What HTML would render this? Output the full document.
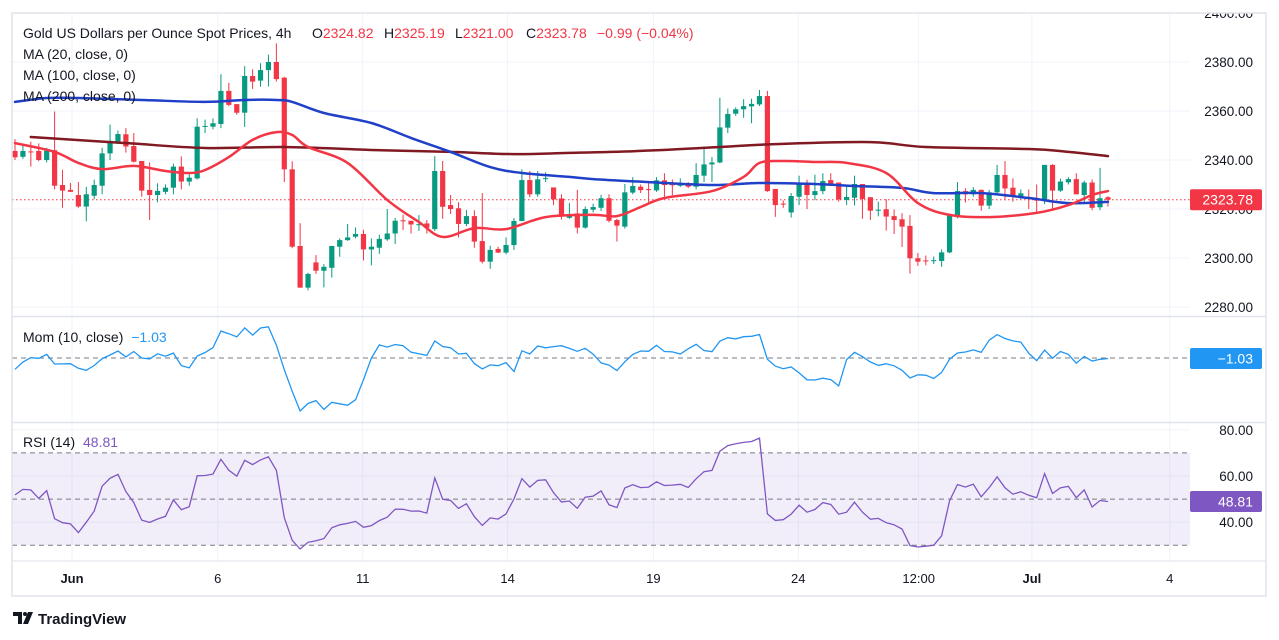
<!DOCTYPE html>
<html><head><meta charset="utf-8"><title>Gold 4h chart</title>
<style>
html,body{margin:0;padding:0;background:#fff;}
svg{display:block;font-family:"Liberation Sans",sans-serif;}
</style></head>
<body>
<svg id="chart" width="1279" height="640" viewBox="0 0 1279 640" xmlns="http://www.w3.org/2000/svg">
<defs>
<clipPath id="mainClip"><rect x="12" y="13" width="1178" height="303"/></clipPath>
<clipPath id="momClip"><rect x="12" y="317" width="1178" height="105"/></clipPath>
<clipPath id="rsiClip"><rect x="12" y="423" width="1178" height="138"/></clipPath>
<clipPath id="axisClip"><rect x="1190" y="13" width="76" height="548"/></clipPath>
</defs>
<rect x="0" y="0" width="1279" height="640" fill="#fff"/>
<g id="grid"></g>
<g id="rsiBand"></g>
<g id="mainPane" clip-path="url(#mainClip)"></g>
<g id="momPane" clip-path="url(#momClip)"></g>
<g id="rsiPane" clip-path="url(#rsiClip)"></g>
<g id="axis"></g>
<g id="timeAxis"></g>
<rect x="12" y="13" width="1254" height="583" fill="none" stroke="#e0e3eb" stroke-width="1.5"/>
<line x1="12" y1="316.5" x2="1266" y2="316.5" stroke="#e0e3eb" stroke-width="1.5"/>
<line x1="12" y1="422.5" x2="1266" y2="422.5" stroke="#e0e3eb" stroke-width="1.5"/>
<line x1="12" y1="561" x2="1266" y2="561" stroke="#e0e3eb" stroke-width="1"/>

<g font-size="14">
<text x="23" y="38" fill="#131722">Gold US Dollars per Ounce Spot Prices, 4h</text>
<text y="38" font-size="14"><tspan x="312" fill="#131722">O</tspan><tspan fill="#f23645">2324.82</tspan><tspan x="384" fill="#131722">H</tspan><tspan fill="#f23645">2325.19</tspan><tspan x="455" fill="#131722">L</tspan><tspan fill="#f23645">2321.00</tspan><tspan x="526" fill="#131722">C</tspan><tspan fill="#f23645">2323.78</tspan><tspan x="597" fill="#f23645">−0.99 (−0.04%)</tspan></text>
<text x="23" y="59" fill="#131722">MA (20, close, 0)</text>
<text x="23" y="80" fill="#131722">MA (100, close, 0)</text>
<text x="23" y="101" fill="#131722">MA (200, close, 0)</text>
<text x="23" y="342" fill="#131722">Mom (10, close) <tspan fill="#2196f3" dx="4">−1.03</tspan></text>
<text x="23" y="447" fill="#131722">RSI (14) <tspan fill="#7e57c2" dx="4">48.81</tspan></text>
</g>

<g>
<path d="M13 612 h9 v12 h-4 v-8 h-5z" fill="#131722"/>
<circle cx="25" cy="614" r="2" fill="#131722"/>
<path d="M28 612 h5 l-5 12 h-5z" fill="#131722"/>
<text x="38" y="624" font-size="15" font-weight="bold" fill="#131722">TradingView</text>
</g>
</svg>
<script>
// ---------- data ----------
const opens  = [2343.7,2341.3,2343.5,2343.7,2340.0,2344.0,2329.8,2327.8,2325.7,2321.0,2325.4,2329.5,2342.7,2347.3,2350.5,2345.7,2339.6,2327.8,2325.7,2327.0,2328.7,2337.3,2331.2,2332.5,2353.6,2353.6,2354.7,2368.2,2362.8,2359.3,2374.3,2372.4,2376.7,2380.0,2373.6,2336.2,2304.9,2287.9,2298.2,2294.8,2296.0,2304.6,2307.3,2308.7,2309.8,2303.5,2304.2,2307.6,2310.0,2315.4,2315.2,2313.6,2314.1,2311.8,2335.5,2321.6,2320.3,2313.9,2317.1,2306.9,2298.5,2303.7,2302.2,2305.3,2315.1,2331.8,2326.0,2332.3,2328.8,2324.3,2316.4,2318.2,2312.4,2319.7,2320.5,2324.4,2315.5,2312.8,2326.7,2329.1,2328.1,2327.6,2331.7,2330.1,2329.5,2330.0,2329.1,2333.6,2338.2,2339.0,2353.2,2358.9,2360.7,2361.9,2362.7,2366.1,2328.2,2322.2,2318.6,2325.0,2330.8,2325.7,2327.3,2331.8,2330.8,2323.7,2324.6,2330.2,2324.8,2319.4,2319.9,2317.1,2315.8,2313.1,2299.9,2299.0,2298.8,2298.8,2302.3,2316.9,2327.3,2326.0,2327.8,2321.4,2326.8,2333.9,2328.7,2324.8,2324.8,2324.4,2323.7,2338.0,2327.5,2330.9,2332.2,2325.7,2330.8,2320.7,2324.82];
const highs  = [2348.5,2346.0,2347.5,2346.8,2345.0,2359.8,2336.0,2330.6,2331.0,2329.0,2332.0,2345.0,2354.5,2352.0,2353.0,2351.0,2339.6,2339.0,2330.5,2330.0,2338.5,2341.5,2335.0,2357.0,2356.5,2357.0,2375.0,2371.5,2362.8,2378.3,2377.0,2379.5,2383.0,2387.6,2374.0,2339.5,2314.2,2294.0,2301.2,2297.5,2305.0,2308.0,2313.9,2312.5,2311.5,2308.0,2309.5,2320.0,2316.3,2317.7,2315.2,2317.5,2315.5,2341.6,2339.6,2325.7,2322.8,2319.6,2319.5,2326.5,2305.0,2304.6,2308.4,2316.3,2336.2,2335.5,2335.5,2335.0,2328.8,2326.0,2322.4,2327.8,2321.0,2322.2,2325.8,2326.0,2316.0,2330.2,2333.0,2330.0,2331.0,2333.0,2334.6,2332.0,2332.5,2331.0,2338.7,2345.6,2341.2,2365.4,2361.0,2361.5,2364.8,2365.0,2368.6,2368.2,2328.2,2323.5,2326.5,2333.6,2332.0,2334.0,2334.6,2334.6,2330.8,2330.0,2333.6,2330.2,2324.8,2323.0,2324.0,2319.8,2318.3,2317.5,2302.0,2301.0,2300.6,2303.5,2317.8,2331.0,2328.5,2328.9,2328.0,2327.8,2338.0,2339.6,2332.5,2328.0,2328.0,2330.0,2338.0,2338.3,2332.4,2333.0,2334.6,2331.6,2332.0,2336.8,2325.19];
const lows   = [2340.0,2340.5,2337.3,2339.5,2339.0,2328.0,2320.5,2327.0,2320.5,2315.0,2324.0,2326.0,2340.0,2346.5,2343.0,2339.0,2325.0,2315.5,2322.7,2326.0,2326.0,2328.0,2329.5,2332.0,2351.0,2352.5,2353.0,2362.0,2358.5,2353.5,2369.0,2370.0,2370.0,2372.0,2331.0,2304.0,2287.9,2286.8,2293.5,2288.0,2292.0,2300.5,2307.0,2308.0,2299.0,2297.0,2301.7,2307.0,2305.7,2311.4,2310.0,2311.0,2310.0,2311.0,2316.0,2318.0,2308.4,2313.0,2304.2,2297.8,2295.6,2302.0,2301.5,2303.3,2315.0,2324.8,2325.0,2331.0,2321.6,2315.7,2316.0,2310.0,2312.0,2318.6,2319.2,2314.5,2306.7,2312.0,2326.0,2326.5,2322.0,2327.0,2325.0,2325.6,2329.0,2328.5,2328.0,2331.0,2331.0,2338.7,2351.0,2358.0,2357.2,2355.0,2362.0,2327.0,2316.8,2320.5,2316.5,2321.6,2320.0,2323.6,2326.0,2330.0,2323.0,2321.6,2321.5,2316.0,2315.5,2317.0,2311.2,2309.8,2304.5,2293.6,2296.8,2297.0,2297.5,2296.4,2302.0,2316.2,2322.6,2325.0,2319.3,2320.0,2326.0,2323.5,2323.0,2324.0,2320.0,2318.3,2322.0,2319.5,2327.0,2330.0,2326.0,2322.8,2319.5,2319.5,2321.00];
const closes = [2341.1,2343.7,2343.3,2340.0,2343.8,2329.5,2327.5,2327.0,2321.0,2326.0,2329.8,2342.7,2347.8,2350.6,2345.5,2339.3,2327.5,2325.7,2327.4,2328.7,2337.3,2331.2,2332.8,2353.6,2353.9,2355.0,2368.2,2362.5,2359.3,2374.3,2372.0,2376.7,2380.0,2373.0,2336.2,2304.6,2287.9,2293.5,2294.8,2296.4,2304.9,2307.3,2308.4,2309.8,2303.5,2304.6,2307.8,2310.0,2315.2,2315.0,2313.7,2313.8,2312.4,2335.5,2320.9,2320.0,2313.9,2317.1,2306.7,2298.5,2303.3,2302.2,2305.3,2315.1,2331.8,2326.0,2332.1,2332.6,2323.9,2317.1,2317.8,2312.4,2320.0,2320.8,2324.4,2315.2,2313.2,2326.8,2329.4,2327.7,2328.0,2331.7,2329.8,2330.0,2330.5,2329.1,2333.9,2338.2,2339.0,2353.3,2358.8,2360.7,2362.0,2362.9,2366.1,2327.3,2321.6,2322.0,2325.3,2330.8,2325.7,2327.3,2331.4,2330.2,2323.9,2324.9,2330.2,2324.1,2319.3,2319.7,2316.9,2315.5,2312.8,2299.9,2298.5,2298.8,2299.1,2302.3,2317.5,2327.3,2326.0,2327.8,2321.4,2326.8,2333.9,2328.4,2325.0,2326.4,2324.6,2323.4,2338.0,2327.5,2331.2,2332.2,2326.0,2330.8,2320.5,2324.4,2323.78];

const ma20Idx  = [0,5,8,11,15,19,22,24,27,30,33,35,37,42,47,51,54,58,62,67,73,76,79,82,88,92,94,97,101,105,110,114,118,123,129,133,136,138];
const ma20Val  = [2346.9,2343.3,2338.8,2336.3,2337.6,2335.5,2334.7,2335.9,2341.2,2348.2,2351.4,2350.2,2345.3,2338.8,2323.7,2314.7,2308.6,2312.2,2311.8,2316.7,2317.6,2317.1,2320.8,2324.5,2327.3,2333.1,2338.8,2339.6,2339.2,2338.8,2334.7,2322.4,2317.6,2316.7,2318.4,2321.6,2325.7,2327.3];
const ma100Idx = [0,4,8,16,24,29,33,35,39,45,50,55,60,64,70,73,80,88,94,101,106,112,116,122,128,133,138];
const ma100Val = [2363.7,2365.3,2365.3,2364.5,2363.7,2364.5,2364.5,2363.7,2359.2,2355.1,2349.0,2343.3,2337.1,2334.7,2333.1,2332.2,2331.0,2329.8,2330.6,2330.2,2329.4,2328.6,2326.5,2326.5,2324.5,2322.4,2322.9];
const ma200Idx = [2,14,24,34,45,55,63,70,79,89,96,108,115,128,133,138];
const ma200Val = [2349.4,2346.9,2344.9,2345.3,2344.1,2343.3,2342.4,2342.9,2343.7,2345.3,2346.5,2347.3,2345.3,2344.5,2343.3,2341.6];

const momStart = [-17.1,-6.0,0.5,-0.5,5.6,-9.1,-9.0,-8.6,-15.6,-18.6];
const rsiStart = [51.8,54.2,54.0,50.3,53.7,41.5,39.8,39.3,35.5,40.0,44.8,55.6,59.0,60.7];

const priceTicks = [2280,2300,2320,2340,2360,2380,2400];
const rsiTicks = [40,60,80];
const timeLabels = ["Jun","6","11","14","19","24","12:00","Jul","4"];
const timeIdx = [7.2,25.6,43.9,62.2,80.6,98.9,114.1,128.4,145.8];
const timeBold = [true,false,false,false,false,false,false,true,false];

// ---------- scales ----------
const NS = "http://www.w3.org/2000/svg";
function xOf(i){ return 15 + i*7.92; }
function yP(p){ return 62 + (2380-p)*2.45; }
function yM(m){ return 358 - m*0.66; }
function yR(r){ return 545.3 - (r-30)*2.31; }
function mk(tag, attrs, parent){
  const e = document.createElementNS(NS, tag);
  for (const k in attrs) e.setAttribute(k, attrs[k]);
  parent.appendChild(e);
  return e;
}
const gGrid = document.getElementById('grid');
const gMain = document.getElementById('mainPane');
const gMom = document.getElementById('momPane');
const gRsi = document.getElementById('rsiPane');
const gAxis = document.getElementById('axis');
const gTime = document.getElementById('timeAxis');
const gBand = document.getElementById('rsiBand');

priceTicks.forEach(p=>{
  const l = mk('line',{x1:12,x2:1190,y1:yP(p),y2:yP(p),stroke:'#f0f3fa','stroke-width':1},gGrid);
  
  
});
rsiTicks.forEach(r=>{
  const l = mk('line',{x1:12,x2:1190,y1:yR(r),y2:yR(r),stroke:'#f0f3fa','stroke-width':1},gGrid);
  
  
});
timeIdx.forEach(t=>{
  const l = mk('line',{x1:xOf(t),x2:xOf(t),y1:13,y2:561,stroke:'#f0f3fa','stroke-width':1},gGrid);
  
  
});

const band = mk('rect',{x:12,y:yR(70),width:1178,height:yR(30)-yR(70),fill:'#7e57c2','fill-opacity':0.1},gBand);


[70,50,30].forEach(r=>{
  const l = mk('line',{x1:12,x2:1190,y1:yR(r),y2:yR(r),stroke:'#787b86','stroke-width':1,'stroke-dasharray':'5,4'},gBand);
  
  
});
const zl = mk('line',{x1:12,x2:1190,y1:yM(0),y2:yM(0),stroke:'#787b86','stroke-width':1,'stroke-dasharray':'5,4'},gBand);



const lastC = closes[closes.length-1];
const lp = mk('line',{x1:12,x2:1190,y1:yP(lastC),y2:yP(lastC),stroke:'#f23645','stroke-width':1,'stroke-dasharray':'1.5,2.5'},gMain);



for (let i=0;i<closes.length;i++){
  const up = closes[i] >= opens[i];
  const col = up ? '#089981' : '#f23645';
  const g = mk('g',{},gMain);
  
  
  const x = xOf(i);
  mk('line',{x1:x,x2:x,y1:yP(highs[i]),y2:yP(lows[i]),stroke:col,'stroke-width':1},g);
  const top = yP(Math.max(opens[i],closes[i]));
  const h = Math.max(1, yP(Math.min(opens[i],closes[i])) - top);
  mk('rect',{x:x-2.6,y:top,width:5.2,height:h,fill:col},g);
}

function smoothPath(pts){
  let d = 'M'+pts[0][0].toFixed(1)+','+pts[0][1].toFixed(1);
  for (let k=0;k<pts.length-1;k++){
    const p0 = pts[Math.max(0,k-1)], p1 = pts[k], p2 = pts[k+1], p3 = pts[Math.min(pts.length-1,k+2)];
    const c1x = p1[0]+(p2[0]-p0[0])/6, c1y = p1[1]+(p2[1]-p0[1])/6;
    const c2x = p2[0]-(p3[0]-p1[0])/6, c2y = p2[1]-(p3[1]-p1[1])/6;
    d += ' C'+c1x.toFixed(1)+','+c1y.toFixed(1)+' '+c2x.toFixed(1)+','+c2y.toFixed(1)+' '+p2[0].toFixed(1)+','+p2[1].toFixed(1);
  }
  return d;
}
function maLine(idx, vals, col, w, name){
  const pts = idx.map((t,k)=>[xOf(t), yP(vals[k])]);
  const pl = mk('path',{d:smoothPath(pts),fill:'none',stroke:col,'stroke-width':w,'stroke-linejoin':'round','stroke-linecap':'round'},gMain);
  
  
}
maLine(ma200Idx, ma200Val, '#801922', 2.5, 'ma200-line');
maLine(ma100Idx, ma100Val, '#2040c8', 2.5, 'ma100-line');
maLine(ma20Idx, ma20Val, '#f23645', 2.5, 'ma20-line');

const momVals = [];
for (let i=0;i<closes.length;i++) momVals.push(i<10 ? momStart[i] : closes[i]-closes[i-10]);
const mpl = mk('polyline',{points:momVals.map((m,i)=>xOf(i).toFixed(1)+','+yM(m).toFixed(1)).join(' '),fill:'none',stroke:'#2196f3','stroke-width':1.3},gMom);



const rsiVals = [];
let ag=0, al=0;
const n0 = rsiStart.length;
for (let i=1;i<n0;i++){ const d=closes[i]-closes[i-1]; if(d>0) ag+=d; else al-=d; }
ag/=(n0-1); al/=(n0-1);
for (let i=0;i<closes.length;i++){
  if (i<n0){ rsiVals.push(rsiStart[i]); continue; }
  const d = closes[i]-closes[i-1];
  ag = (ag*13 + Math.max(d,0))/14;
  al = (al*13 + Math.max(-d,0))/14;
  rsiVals.push(al===0?100:100-100/(1+ag/al));
}
const rpl = mk('polyline',{points:rsiVals.map((r,i)=>xOf(i).toFixed(1)+','+yR(r).toFixed(1)).join(' '),fill:'none',stroke:'#7e57c2','stroke-width':1.3},gRsi);



const axClip = mk('g',{'clip-path':'url(#axisClip)'},gAxis);
priceTicks.forEach(p=>{
  const t = mk('text',{x:1253,y:yP(p)+5,'text-anchor':'end','font-size':13.5,fill:'#131722'},axClip);
  t.textContent = p.toFixed(2);
  
  
});
rsiTicks.forEach(r=>{
  const t = mk('text',{x:1253,y:yR(r)+5,'text-anchor':'end','font-size':13.5,fill:'#131722'},gAxis);
  t.textContent = r.toFixed(2);
  
  
});
function badge(yc, col, txt, name){
  const g = mk('g',{},gAxis);
  
  
  mk('rect',{x:1190,y:yc-10.5,width:72,height:21,rx:2,fill:col},g);
  const t = mk('text',{x:1253,y:yc+5,'text-anchor':'end','font-size':14,fill:'#fff'},g);
  t.textContent = txt;
}
badge(yP(lastC), '#f23645', lastC.toFixed(2), 'last-price-badge');
badge(yM(momVals[momVals.length-1]), '#2196f3', '−1.03', 'momentum-value-badge');
badge(yR(rsiVals[rsiVals.length-1]), '#7e57c2', '48.81', 'rsi-value-badge');

timeLabels.forEach((lab,k)=>{
  const t = mk('text',{x:xOf(timeIdx[k]),y:583,'text-anchor':'middle','font-size':13,fill:'#131722','font-weight':timeBold[k]?'bold':'normal'},gTime);
  t.textContent = lab;
  
  
});
</script>
</body></html>
